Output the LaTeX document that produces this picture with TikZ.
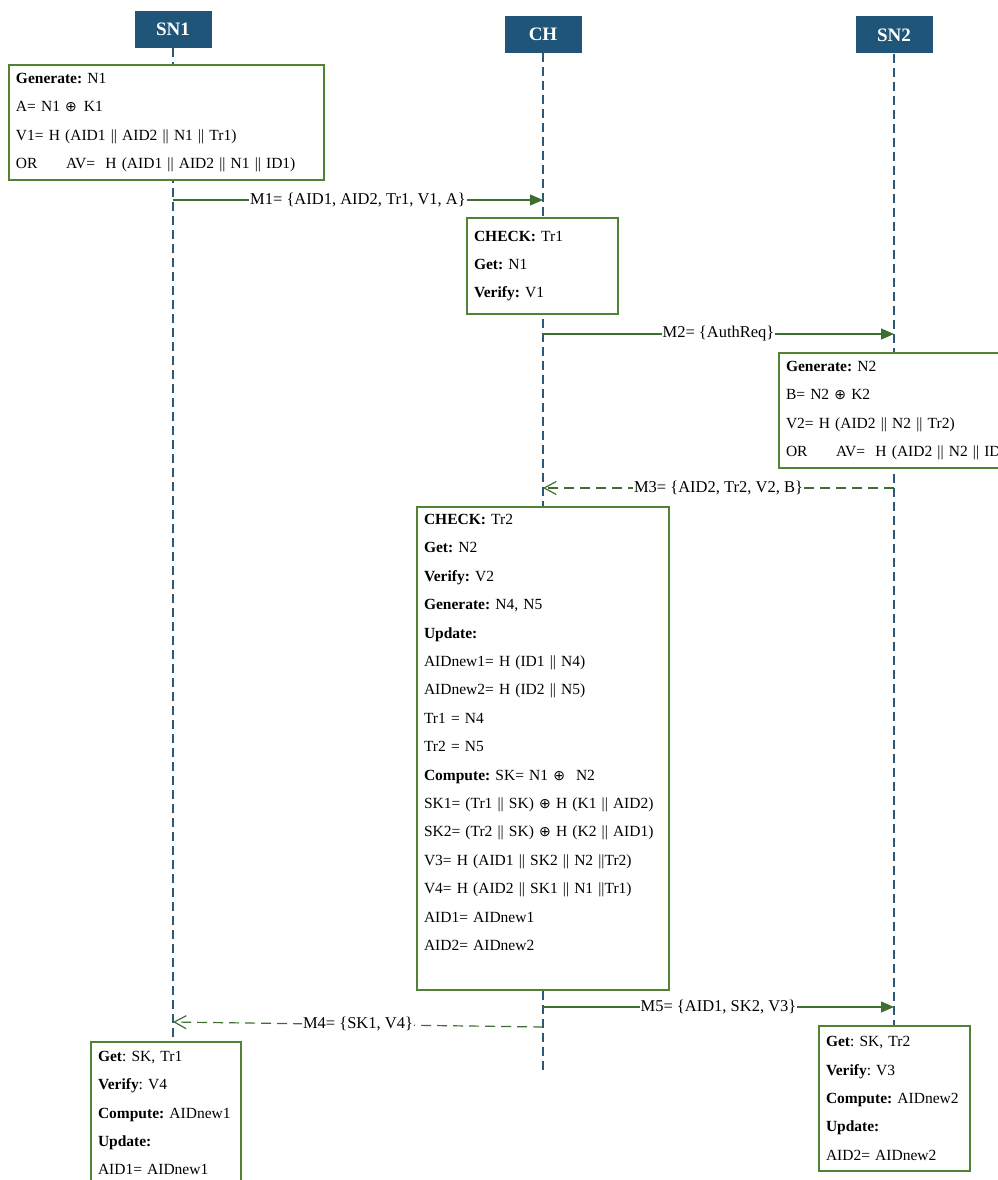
\documentclass[tikz,border=0pt]{standalone}
\usepackage{fontspec}
\setmainfont{Liberation Serif}
\newfontfamily\xorfont{DejaVu Sans}
\newcommand{\xor}{{\xorfont\fontsize{14}{14}\selectfont ⊕}}
\usetikzlibrary{arrows.meta}
\definecolor{hdblue}{RGB}{31,85,120}
\definecolor{lineblue}{RGB}{45,88,122}
\definecolor{boxgreen}{RGB}{84,130,53}
\definecolor{arrgreen}{RGB}{62,110,48}
\frenchspacing
\begin{document}
\begin{tikzpicture}[x=1pt,y=-1pt,
  actor/.style={fill=hdblue, text=white, font=\fontsize{19}{22}\selectfont\bfseries,
                minimum width=77pt, minimum height=37pt, inner sep=0pt},
  lifeline/.style={draw=lineblue, line width=1.3pt, dash pattern=on 9pt off 5pt},
  procbox/.style={draw=boxgreen, fill=white, line width=1.2pt, align=left,
                  inner xsep=7pt, inner ysep=0pt, font=\fontsize{15.5}{28.4}\selectfont},
  msg/.style={draw=arrgreen, line width=1.2pt, -{Triangle[length=13pt,width=11pt]}},
  reply/.style={draw=arrgreen, line width=1.2pt, dash pattern=on 10pt off 6pt,
                -{Straight Barb[length=12pt,width=13pt]}},
  msglabel/.style={fill=white, inner xsep=1pt, inner ysep=1pt, font=\fontsize{16.5}{19}\selectfont}]
\useasboundingbox (0,0) rectangle (998,1180);
\clip (0,0) rectangle (998,1180);
\node[actor] (sn1) at (173,29.5) {SN1};
\node[actor] (ch) at (543,34.5) {CH};
\node[actor] (sn2) at (894,35) {SN2};
\coordinate (sn1end) at (173,1180);
\coordinate (chend) at (543,1070);
\coordinate (sn2end) at (894,1100);
\draw[lifeline] (sn1.south) -- (sn1end);
\draw[lifeline] (ch.south) -- (chend);
\draw[lifeline] (sn2.south) -- (sn2end);
\node[procbox, text width=301pt, minimum height=115pt] (sn1gen) at (166.5,122.5)
  {\textbf{Generate:} N1\\
   A= N1 \xor\hspace{7pt}K1\\
   V1= H (AID1 || AID2 || N1 || Tr1)\\
   OR\hspace{28.5pt}AV=\ \ H (AID1 || AID2 || N1 || ID1)};
\node[procbox, text width=137pt, minimum height=96pt] (chchk) at (542.5,266)
  {\textbf{CHECK:} Tr1\\
   \textbf{Get:} N1\\
   \textbf{Verify:} V1};
\node[procbox, text width=240pt, minimum height=115pt] (sn2gen) at (906,410.5)
  {\textbf{Generate:} N2\\
   B= N2 \xor{} K2\\
   V2= H (AID2 || N2 || Tr2)\\
   OR\hspace{28.5pt}AV=\ \ H (AID2 || N2 || ID2)};
\node[procbox, text width=238pt, minimum height=483pt] (chupd) at (543,748.5)
  {\textbf{CHECK:} Tr2\\
   \textbf{Get:} N2\\
   \textbf{Verify:} V2\\
   \textbf{Generate:} N4, N5\\
   \textbf{Update:}\\
   AIDnew1= H (ID1 || N4)\\
   AIDnew2= H (ID2 || N5)\\
   Tr1 = N4\\
   Tr2 = N5\\
   \textbf{Compute:} SK= N1 \xor\hspace{11pt}N2\\
   SK1= (Tr1 || SK) \xor{} H (K1 || AID2)\\
   SK2= (Tr2 || SK) \xor{} H (K2 || AID1)\\
   V3= H (AID1 || SK2 || N2 ||Tr2)\\
   V4= H (AID2 || SK1 || N1 ||Tr1)\\
   AID1= AIDnew1\\
   AID2= AIDnew2\\[4pt]
   \mbox{}};
\node[procbox, text width=136pt, minimum height=142pt] (sn1upd) at (166,1113)
  {\textbf{Get}: SK, Tr1\\
   \textbf{Verify}: V4\\
   \textbf{Compute:} AIDnew1\\
   \textbf{Update:}\\
   AID1= AIDnew1};
\node[procbox, text width=137pt, minimum height=145pt] (sn2upd) at (894.5,1098.5)
  {\textbf{Get}: SK, Tr2\\
   \textbf{Verify}: V3\\
   \textbf{Compute:} AIDnew2\\
   \textbf{Update:}\\
   AID2= AIDnew2};
\coordinate (m1s) at (173,200);  \coordinate (m1e) at (543,200);
\coordinate (m2s) at (543,334);  \coordinate (m2e) at (894,334);
\coordinate (m3s) at (894,488);  \coordinate (m3e) at (543,488);
\coordinate (m5s) at (543,1007); \coordinate (m5e) at (894,1007);
\coordinate (m4s) at (543,1027); \coordinate (m4e) at (173,1022);
\draw[msg] (m1s) -- node[msglabel] {M1= \{AID1, AID2, Tr1, V1, A\}} (m1e);
\draw[msg] (m2s) -- node[msglabel] {M2= \{AuthReq\}} (m2e);
\draw[reply] (m3s) -- node[msglabel] {M3= \{AID2, Tr2, V2, B\}} (m3e);
\draw[msg] (m5s) -- node[msglabel] {M5= \{AID1, SK2, V3\}} (m5e);
\draw[reply] (m4s) -- node[msglabel] {M4= \{SK1, V4\}} (m4e);
\end{tikzpicture}
\end{document}
